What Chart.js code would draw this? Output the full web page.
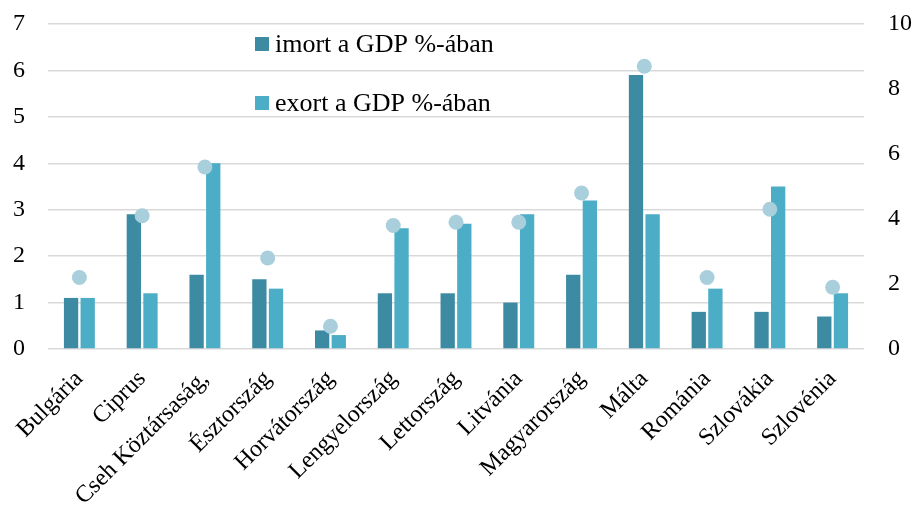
<!DOCTYPE html>
<html>
<head>
<meta charset="utf-8">
<script src="https://cdn.jsdelivr.net/npm/chart.js@4"></script>
<style>
  html, body { margin: 0; padding: 0; background: #fff; }
  #wrap { width: 916px; height: 515px; }
</style>
</head>
<body>
<div id="wrap"><canvas id="chart"></canvas></div>
<script>
// data
const countries = ['Bulgária', 'Ciprus', 'Cseh Köztársaság,', 'Észtország', 'Horvátország', 'Lengyelország',
    'Lettország', 'Litvánia', 'Magyarország', 'Málta', 'Románia', 'Szlovákia', 'Szlovénia'];
const importGdp = [1.1, 2.9, 1.6, 1.5, 0.4, 1.2, 1.2, 1.0, 1.6, 5.9, 0.8, 0.8, 0.7];
const exportGdp = [1.1, 1.2, 4.0, 1.3, 0.3, 2.6, 2.7, 2.9, 3.2, 2.9, 1.3, 3.5, 1.2];
const points = [2.2, 4.1, 5.6, 2.8, 0.7, 3.8, 3.9, 3.9, 4.8, 8.7, 2.2, 4.3, 1.9];
const leftTicks = [0, 1, 2, 3, 4, 5, 6, 7];
const rightTicks = [0, 2, 4, 6, 8, 10];

const serif = '"Liberation Serif", "Times New Roman", serif';

// legend drawn inside the plot area
const innerLegend = {
    id: 'innerLegend',
    afterDraw(chart) {
        const ctx = chart.ctx;
        const rows = [44, 103];
        ctx.save();
        ctx.font = '26px ' + serif;
        ctx.textBaseline = 'middle';
        chart.data.datasets.slice(0, 2).forEach((ds, i) => {
            ctx.fillStyle = ds.backgroundColor;
            ctx.fillRect(255, rows[i] - 7, 14, 14);
            ctx.fillStyle = '#000';
            ctx.fillText(ds.label, 275, rows[i] + 1);
        });
        ctx.restore();
    }
};

function fixY(width) {
    return function (scale) {
        scale.width = width;
        scale.paddingTop = 0;
        scale.paddingBottom = 0;
    };
}

new Chart(document.getElementById('chart').getContext('2d'), {
    data: {
        labels: countries,
        datasets: [
            {
                type: 'bar',
                label: 'imort a GDP %-ában',
                data: importGdp,
                backgroundColor: '#3d8ba3',
                yAxisID: 'y',
                order: 2,
                categoryPercentage: 0.53,
                barPercentage: 0.86
            },
            {
                type: 'bar',
                label: 'exort a GDP %-ában',
                data: exportGdp,
                backgroundColor: '#4badc6',
                yAxisID: 'y',
                order: 2,
                categoryPercentage: 0.53,
                barPercentage: 0.86
            },
            {
                type: 'line',
                label: '',
                data: points,
                showLine: false,
                pointRadius: 7.5,
                pointHoverRadius: 7.5,
                pointBackgroundColor: '#a9cfdc',
                pointBorderColor: '#a9cfdc',
                pointBorderWidth: 0,
                yAxisID: 'y1',
                order: 1
            }
        ]
    },
    options: {
        responsive: true,
        maintainAspectRatio: false,
        animation: false,
        layout: { padding: { top: 24, left: 0, right: 0, bottom: 0 } },
        plugins: {
            legend: { display: false },
            tooltip: { enabled: false }
        },
        scales: {
            x: {
                grid: { display: false },
                border: { display: false },
                ticks: {
                    color: '#000',
                    font: { family: serif, size: 24 },
                    maxRotation: 45,
                    minRotation: 45,
                    autoSkip: false,
                    padding: 8
                },
                afterFit(scale) {
                    scale.height = 166;
                    scale.paddingLeft = 0;
                    scale.paddingRight = 0;
                }
            },
            y: {
                position: 'left',
                min: 0,
                max: 7,
                afterBuildTicks(scale) { scale.ticks = leftTicks.map(v => ({ value: v })); },
                grid: { color: '#d9d9d9', lineWidth: 1.5, drawTicks: false },
                border: { display: false },
                ticks: {
                    color: '#000',
                    font: { family: serif, size: 24 },
                    padding: 23
                },
                afterFit: fixY(48)
            },
            y1: {
                position: 'right',
                min: 0,
                max: 10,
                afterBuildTicks(scale) { scale.ticks = rightTicks.map(v => ({ value: v })); },
                grid: { display: false, drawTicks: false },
                border: { display: false },
                ticks: {
                    color: '#000',
                    font: { family: serif, size: 24 },
                    padding: 24
                },
                afterFit: fixY(52)
            }
        }
    },
    plugins: [innerLegend]
});
</script>
</body>
</html>
